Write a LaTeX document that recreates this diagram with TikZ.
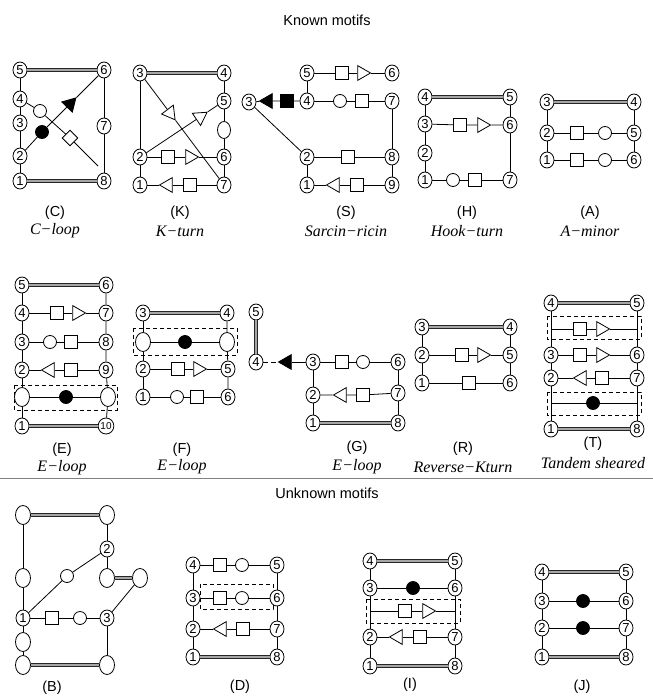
\documentclass[tikz,border=0pt]{standalone}
\usepackage{fontspec}
\setmainfont{Liberation Sans}
\newfontfamily\serifit{Liberation Serif}
\usetikzlibrary{shapes.geometric}
\begin{document}
\begin{tikzpicture}[x=1pt,y=-1pt,line width=0.8pt,
  num/.style={ellipse,draw,fill=white,minimum width=14pt,minimum height=16pt,inner sep=0pt,font=\fontsize{13}{13}\selectfont},
  eov/.style={ellipse,draw,fill=white,minimum width=15pt,minimum height=19pt,inner sep=0pt},
  oc/.style={circle,draw,fill=white,minimum size=13pt,inner sep=0pt},
  bc/.style={circle,draw,fill=black,minimum size=13pt,inner sep=0pt},
  sq/.style={rectangle,draw,fill=white,minimum size=13pt,inner sep=0pt},
  bsq/.style={sq,fill=black},
  tri/.style={regular polygon,regular polygon sides=3,draw,fill=white,minimum size=17pt,inner sep=0pt},
  trr/.style={tri,rotate=-90},
  trl/.style={tri,rotate=90},
  dia/.style={sq,minimum size=11pt,rotate=45},
  dbl/.style={draw=black!85,double=black!35,double distance=1.8pt,line width=0.7pt},
  dbox/.style={draw,dash pattern=on 4pt off 3pt,line width=0.7pt},
  lab/.style={font=\fontsize{14.5}{15}\selectfont},
  ilab/.style={font=\serifit\itshape\fontsize{16}{17}\selectfont},
  head/.style={font=\fontsize{14.5}{15}\selectfont}
]
\path[use as bounding box] (0,0) rectangle (653,696);

\node[head] (hk) at (327,20) {Known motifs};
\node[head] (hu) at (327,493) {Unknown motifs};
\coordinate (sepL) at (0,478);
\coordinate (sepR) at (653,478);
\draw[black!50,line width=0.5pt] (sepL) -- (sepR);

% ---------------- (C)
\node[num] (C5) at (20,70) {5};
\node[num] (C6) at (104,70) {6};
\node[num] (C4) at (20,99) {4};
\node[num] (C3) at (20,123) {3};
\node[num] (C2) at (20,156) {2};
\node[num] (C1) at (20,181) {1};
\node[num] (C8) at (104,181) {8};
\node[num] (C7) at (104,126) {7};
\node[oc] (Coc) at (40,111) {};
\node[bc] (Cbc) at (42,132) {};
\node[tri,fill=black,rotate=-44] (Ctr) at (70,104) {};
\node[dia] (Cdi) at (70,138) {};
\coordinate (Cend) at (98,166);
\draw[dbl] (C5) -- (C6);
\draw[dbl] (C1) -- (C8);
\draw (C5) -- (C4) -- (C3) -- (C2) -- (C1);
\draw (C6) -- (C7) -- (C8);
\draw (C2) -- (Cbc) -- (Ctr) -- (C6);
\draw (C4) -- (Coc) -- (Cdi) -- (Cend);
\node[lab] (Cl) at (55,213) {(C)};
\node[ilab] (Cn) at (55,231) {C−loop};

% ---------------- (K)
\node[num] (K3) at (140,73) {3};
\node[num] (K4) at (224,73) {4};
\node[num] (K5) at (224,101) {5};
\node[eov,minimum width=13pt,minimum height=17pt] (Kov) at (224,130) {};
\node[num] (K6) at (224,157) {6};
\node[num] (K7) at (224,185) {7};
\node[num] (K2) at (140,157) {2};
\node[num] (K1) at (140,185) {1};
\node[tri,rotate=-143] (Kt1) at (170,113) {};
\node[tri,rotate=-56] (Kt2) at (200,117) {};
\node[sq] (Ks1) at (168,157) {};
\node[trr] (Kt3) at (190,157) {};
\node[trl] (Kt4) at (168,185) {};
\node[sq] (Ks2) at (190,185) {};
\draw[dbl] (K3) -- (K4);
\draw (K3) -- (K2) -- (K1);
\draw (K4) -- (K5) -- (Kov) -- (K6) -- (K7);
\draw (K3) -- (Kt1) -- (K7);
\draw (K2) -- (Kt2) -- (K5);
\draw (K2) -- (Ks1) -- (Kt3) -- (K6);
\draw (K1) -- (Kt4) -- (Ks2) -- (K7);
\node[lab] (Kl) at (180,213) {(K)};
\node[ilab] (Kn) at (180,231) {K−turn};

% ---------------- (S)
\node[num] (S5) at (307,73) {5};
\node[num] (S6) at (392,73) {6};
\node[num] (S4) at (307,101) {4};
\node[num] (S7) at (392,101) {7};
\node[num] (S3) at (249,102) {3};
\node[num] (S2) at (307,157) {2};
\node[num] (S8) at (392,157) {8};
\node[num] (S1) at (307,185) {1};
\node[num] (S9) at (392,185) {9};
\node[sq] (Ss1) at (342,73) {};
\node[trr] (St1) at (362,73) {};
\node[oc] (So1) at (340,101) {};
\node[sq] (Ss2) at (362,101) {};
\node[bsq] (Sb1) at (287,101) {};
\node[trl,fill=black] (Sb2) at (268,101) {};
\node[sq] (Ss3) at (348,157) {};
\node[trl] (St2) at (335,185) {};
\node[sq] (Ss4) at (357,185) {};
\draw (S5) -- (Ss1) -- (St1) -- (S6);
\draw (S4) -- (So1) -- (Ss2) -- (S7);
\draw (S4) -- (Sb1) -- (Sb2) -- (S3);
\draw (S3) -- (S2);
\draw (S2) -- (Ss3) -- (S8);
\draw (S1) -- (St2) -- (Ss4) -- (S9);
\draw (S5) -- (S4);
\draw (S2) -- (S1);
\draw (S7) -- (S8) -- (S9);
\node[lab] (Sl) at (346,213) {(S)};
\node[ilab] (Sn) at (346,231) {Sarcin−ricin};

% ---------------- (H)
\node[num] (H4) at (425,97) {4};
\node[num] (H5) at (510,97) {5};
\node[num] (H3) at (425,124) {3};
\node[num] (H6) at (510,125) {6};
\node[num] (H2) at (425,153) {2};
\node[num] (H1) at (425,180) {1};
\node[num] (H7) at (510,180) {7};
\node[sq] (Hs1) at (460,125) {};
\node[trr] (Ht1) at (482,125) {};
\node[oc] (Ho1) at (453,180) {};
\node[sq] (Hs2) at (475,180) {};
\draw[dbl] (H4) -- (H5);
\draw (H4) -- (H3) -- (H2) -- (H1);
\draw (H5) -- (H6) -- (H7);
\draw (H3) -- (Hs1) -- (Ht1) -- (H6);
\draw (H1) -- (Ho1) -- (Hs2) -- (H7);
\node[lab] (Hl) at (467,213) {(H)};
\node[ilab] (Hn) at (467,231) {Hook−turn};

% ---------------- (A)
\node[num] (A3) at (547,102) {3};
\node[num] (A4) at (634,102) {4};
\node[num] (A2) at (547,133) {2};
\node[num] (A5) at (634,133) {5};
\node[num] (A1) at (547,160) {1};
\node[num] (A6) at (634,160) {6};
\node[sq] (As1) at (577,133) {};
\node[oc] (Ao1) at (605,133) {};
\node[sq] (As2) at (577,160) {};
\node[oc] (Ao2) at (605,160) {};
\draw[dbl] (A3) -- (A4);
\draw (A3) -- (A2) -- (A1);
\draw (A4) -- (A5) -- (A6);
\draw (A2) -- (As1) -- (Ao1) -- (A5);
\draw (A1) -- (As2) -- (Ao2) -- (A6);
\node[lab] (Al) at (590,213) {(A)};
\node[ilab] (An) at (590,231) {A−minor};

% ---------------- (E)
\draw[dbox] (14,385) rectangle (117,410);
\node[num] (E5) at (22,285) {5};
\node[num] (E6) at (106,285) {6};
\node[num] (E4) at (22,313) {4};
\node[num] (E7) at (106,313) {7};
\node[num] (E3) at (22,342) {3};
\node[num] (E8) at (106,342) {8};
\node[num] (E2) at (22,370) {2};
\node[num] (E9) at (106,370) {9};
\node[eov] (Eol) at (22,397) {};
\node[eov] (Eor) at (108,397) {};
\node[num] (E1) at (22,426) {1};
\node[num] (E10) at (106,426) {\fontsize{10}{10}\selectfont 10};
\node[sq] (Es1) at (57,313) {};
\node[trr] (Et1) at (77,313) {};
\node[oc] (Eo1) at (50,342) {};
\node[sq] (Es2) at (71,342) {};
\node[trl] (Et2) at (50,370) {};
\node[sq] (Es3) at (71,370) {};
\node[bc] (Eb) at (66,397) {};
\draw[dbl] (E5) -- (E6);
\draw[dbl] (E1) -- (E10);
\draw (E5) -- (E4) -- (E3) -- (E2) -- (Eol) -- (E1);
\draw (E6) -- (E7) -- (E8) -- (E9) -- (Eor) -- (E10);
\draw (E4) -- (Es1) -- (Et1) -- (E7);
\draw (E3) -- (Eo1) -- (Es2) -- (E8);
\draw (E2) -- (Et2) -- (Es3) -- (E9);
\draw (Eol) -- (Eb) -- (Eor);
\node[lab] (El) at (62,450) {(E)};
\node[ilab] (En) at (62,468) {E−loop};

% ---------------- (F)
\draw[dbox] (133,328) rectangle (237,355);
\node[num] (F3) at (143,313) {3};
\node[num] (F4) at (227,313) {4};
\node[eov] (Fol) at (143,342) {};
\node[eov] (For) at (227,342) {};
\node[num] (F2) at (143,369) {2};
\node[num] (F5) at (228,369) {5};
\node[num] (F1) at (143,397) {1};
\node[num] (F6) at (228,397) {6};
\node[bc] (Fb) at (185,342) {};
\node[sq] (Fs1) at (178,369) {};
\node[trr] (Ft1) at (198,369) {};
\node[oc] (Fo1) at (177,397) {};
\node[sq] (Fs2) at (197,397) {};
\draw[dbl] (F3) -- (F4);
\draw (F3) -- (Fol) -- (F2) -- (F1);
\draw (F4) -- (For) -- (F5) -- (F6);
\draw (Fol) -- (Fb) -- (For);
\draw (F2) -- (Fs1) -- (Ft1) -- (F5);
\draw (F1) -- (Fo1) -- (Fs2) -- (F6);
\node[lab] (Fl) at (182,450) {(F)};
\node[ilab] (Fn) at (182,467) {E−loop};

% ---------------- (G)
\node[num] (G5) at (256,312) {5};
\node[num] (G4) at (256,362) {4};
\node[trl,fill=black] (Gbt) at (287,362) {};
\node[num] (G3) at (313,362) {3};
\node[num] (G6) at (398,362) {6};
\node[num] (G2) at (313,395) {2};
\node[num] (G7) at (398,393) {7};
\node[num] (G1) at (313,423) {1};
\node[num] (G8) at (398,423) {8};
\node[sq] (Gs1) at (342,362) {};
\node[oc] (Go1) at (363,362) {};
\node[trl] (Gt1) at (342,395) {};
\node[sq] (Gs2) at (363,395) {};
\draw[dbl] (G5) -- (G4);
\draw[dash pattern=on 5pt off 3pt] (G4) -- (Gbt);
\draw (Gbt) -- (G3);
\draw (G3) -- (Gs1) -- (Go1) -- (G6);
\draw (G2) -- (Gt1) -- (Gs2) -- (G7);
\draw[dbl] (G1) -- (G8);
\draw (G3) -- (G2) -- (G1);
\draw (G6) -- (G7) -- (G8);
\node[lab] (Gl) at (357,448) {(G)};
\node[ilab] (Gn) at (357,467) {E−loop};

% ---------------- (R)
\node[num] (R3) at (422,327) {3};
\node[num] (R4) at (510,327) {4};
\node[num] (R2) at (422,355) {2};
\node[num] (R5) at (510,355) {5};
\node[num] (R1) at (422,383) {1};
\node[num] (R6) at (510,383) {6};
\node[sq] (Rs1) at (462,355) {};
\node[trr] (Rt1) at (482,355) {};
\node[sq] (Rs2) at (469,383) {};
\draw[dbl] (R3) -- (R4);
\draw (R3) -- (R2) -- (R1);
\draw (R4) -- (R5) -- (R6);
\draw (R2) -- (Rs1) -- (Rt1) -- (R5);
\draw (R1) -- (Rs2) -- (R6);
\node[lab] (Rl) at (463,449) {(R)};
\node[ilab] (Rn) at (463,467) {Reverse−Kturn};

% ---------------- (T)
\draw[dbox] (547,316) rectangle (641,339);
\draw[dbox] (547,392) rectangle (641,415);
\node[num] (T4) at (551,303) {4};
\node[num] (T5) at (637,303) {5};
\node[num] (T3) at (551,355) {3};
\node[num] (T6) at (637,355) {6};
\node[num] (T2) at (551,378) {2};
\node[num] (T7) at (637,378) {7};
\node[num] (T1) at (551,429) {1};
\node[num] (T8) at (637,429) {8};
\coordinate (Tal) at (551,329);
\coordinate (Tar) at (637,329);
\coordinate (Tbl) at (551,403);
\coordinate (Tbr) at (637,403);
\node[sq] (Ts1) at (580,329) {};
\node[trr] (Tt1) at (601,329) {};
\node[sq] (Ts2) at (580,355) {};
\node[trr] (Tt2) at (601,355) {};
\node[trl] (Tt3) at (582,378) {};
\node[sq] (Ts3) at (602,378) {};
\node[bc] (Tb) at (593,403) {};
\draw[dbl] (T4) -- (T5);
\draw[dbl] (T1) -- (T8);
\draw (T4) -- (T3) -- (T2) -- (T1);
\draw (T5) -- (T6) -- (T7) -- (T8);
\draw (Tal) -- (Ts1) -- (Tt1) -- (Tar);
\draw (T3) -- (Ts2) -- (Tt2) -- (T6);
\draw (T2) -- (Tt3) -- (Ts3) -- (T7);
\draw (Tbl) -- (Tb) -- (Tbr);
\node[lab] (Tl) at (593,444) {(T)};
\node[ilab] (Tn) at (593,463) {Tandem sheared};

% ---------------- (B)
\node[eov] (Btl) at (23,515) {};
\node[eov] (Btr) at (107,515) {};
\node[eov] (Bl1) at (23,578) {};
\node[num] (B1) at (23,618) {1};
\node[eov] (Bl2) at (23,642) {};
\node[eov] (Bbl) at (23,665) {};
\node[eov] (Bbr) at (107,665) {};
\node[num] (B2) at (107,549) {2};
\node[eov] (Br1) at (107,578) {};
\node[eov] (Br2) at (140,578) {};
\node[num] (B3) at (107,618) {3};
\node[oc] (Bo1) at (67,576) {};
\node[sq] (Bs1) at (52,618) {};
\node[oc] (Bo2) at (80,618) {};
\draw[dbl] (Btl) -- (Btr);
\draw[dbl] (Bbl) -- (Bbr);
\draw[dbl] (Br1) -- (Br2);
\draw (Btl) -- (Bl1) -- (B1) -- (Bl2) -- (Bbl);
\draw (Btr) -- (B2) -- (Br1);
\draw (B3) -- (Bbr);
\draw (B1) -- (Bo1) -- (B2);
\draw (Br2) -- (B3);
\draw (B1) -- (Bs1) -- (Bo2) -- (B3);
\node[lab] (Bl) at (52,688) {(B)};

% ---------------- (D)
\draw[dbox] (200,584) rectangle (273,609);
\node[num] (D4) at (193,565) {4};
\node[num] (D5) at (277,565) {5};
\node[num] (D3) at (193,598) {3};
\node[num] (D6) at (277,598) {6};
\node[num] (D2) at (193,629) {2};
\node[num] (D7) at (277,629) {7};
\node[num] (D1) at (193,657) {1};
\node[num] (D8) at (277,657) {8};
\node[sq] (Ds1) at (220,565) {};
\node[oc] (Do1) at (242,565) {};
\node[sq] (Ds2) at (220,598) {};
\node[oc] (Do2) at (242,598) {};
\node[trl] (Dt1) at (222,629) {};
\node[sq] (Ds3) at (243,629) {};
\draw (D4) -- (Ds1) -- (Do1) -- (D5);
\draw (D3) -- (Ds2) -- (Do2) -- (D6);
\draw (D2) -- (Dt1) -- (Ds3) -- (D7);
\draw[dbl] (D1) -- (D8);
\draw (D4) -- (D3) -- (D2) -- (D1);
\draw (D5) -- (D6) -- (D7) -- (D8);
\node[lab] (Dl) at (240,687) {(D)};

% ---------------- (I)
\draw[dbox] (366,599) rectangle (460,623);
\node[num] (I4) at (370,561) {4};
\node[num] (I5) at (455,561) {5};
\node[num] (I3) at (370,588) {3};
\node[num] (I6) at (455,588) {6};
\node[num] (I2) at (370,637) {2};
\node[num] (I7) at (455,637) {7};
\node[num] (I1) at (370,666) {1};
\node[num] (I8) at (455,666) {8};
\node[bc] (Ib) at (413,588) {};
\coordinate (Ial) at (370,611);
\coordinate (Iar) at (456,611);
\node[sq] (Is1) at (405,611) {};
\node[trr] (It1) at (427,611) {};
\node[trl] (It2) at (398,637) {};
\node[sq] (Is2) at (420,637) {};
\draw[dbl] (I4) -- (I5);
\draw[dbl] (I1) -- (I8);
\draw (I4) -- (I3) -- (I2) -- (I1);
\draw (I5) -- (I6) -- (I7) -- (I8);
\draw (I3) -- (Ib) -- (I6);
\draw (Ial) -- (Is1) -- (It1) -- (Iar);
\draw (I2) -- (It2) -- (Is2) -- (I7);
\node[lab] (Il) at (410,685) {(I)};

% ---------------- (J)
\node[num] (J4) at (542,572) {4};
\node[num] (J5) at (626,572) {5};
\node[num] (J3) at (542,601) {3};
\node[num] (J6) at (626,601) {6};
\node[num] (J2) at (542,628) {2};
\node[num] (J7) at (626,628) {7};
\node[num] (J1) at (542,657) {1};
\node[num] (J8) at (626,657) {8};
\node[bc] (Jb1) at (583,601) {};
\node[bc] (Jb2) at (583,628) {};
\draw[dbl] (J4) -- (J5);
\draw[dbl] (J1) -- (J8);
\draw (J4) -- (J3) -- (J2) -- (J1);
\draw (J5) -- (J6) -- (J7) -- (J8);
\draw (J3) -- (Jb1) -- (J6);
\draw (J2) -- (Jb2) -- (J7);
\node[lab] (Jl) at (582,687) {(J)};
\end{tikzpicture}
\end{document}
